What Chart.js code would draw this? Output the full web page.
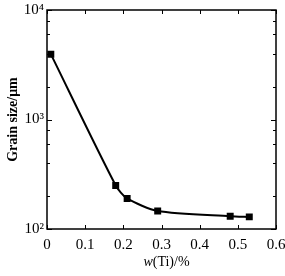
<!DOCTYPE html>
<html>
<head>
<meta charset="utf-8">
<script src="https://cdn.jsdelivr.net/npm/chart.js@4"></script>
<style>
body{margin:0;background:#fff}
</style>
</head>
<body>
<canvas id="c" width="285" height="276"></canvas>
<script>

// data
let tiContent = [0.01, 0.18, 0.21, 0.29, 0.48, 0.53]
let grainSize = [3950, 250, 190, 146, 131, 129]
let xTicks = [0, 0.1, 0.2, 0.3, 0.4, 0.5, 0.6]
let yTicks = [100, 1000, 10000]
let yTickLabels = {100:"10\u00B2", 1000:"10\u00B3", 10000:"10\u2074"}

let serif = "'Liberation Serif', 'DejaVu Serif', serif"

// inward ticks + frame + italic axis title
let extras = {
id:"extras",
afterDraw(chart){
let ctx = chart.ctx
let a = chart.chartArea
let xs = chart.scales.x
let ys = chart.scales.y
ctx.save()
ctx.strokeStyle = "#000"
ctx.lineWidth = 1.5
ctx.strokeRect(a.left, a.top, a.right - a.left, a.bottom - a.top)
ctx.lineWidth = 1
xTicks.forEach(v=>{
let px = Math.round(xs.getPixelForValue(v)) + 0.5
ctx.beginPath()
ctx.moveTo(px, a.bottom); ctx.lineTo(px, a.bottom - 4)
ctx.moveTo(px, a.top); ctx.lineTo(px, a.top + 4)
ctx.stroke()
})
for(let d = 100; d < 10000; d *= 10){
for(let m = 1; m <= 10; m++){
let v = d * m
if(m > 1 && m < 10 && m % 2 == 1) continue
let py = Math.round(ys.getPixelForValue(v)) + 0.5
let len = (m == 1 || m == 10) ? 5 : 3
ctx.beginPath()
ctx.moveTo(a.left, py); ctx.lineTo(a.left + len, py)
ctx.moveTo(a.right, py); ctx.lineTo(a.right - len, py)
ctx.stroke()
}
}
ctx.fillStyle = "#000"
ctx.textBaseline = "alphabetic"
ctx.font = "italic 14px " + serif
let w1 = ctx.measureText("w").width
ctx.font = "14px " + serif
let w2 = ctx.measureText("(Ti)/%").width
let cx = (a.left + a.right) / 2 + 5
let sx = cx - (w1 + w2) / 2
ctx.font = "italic 14px " + serif
ctx.fillText("w", sx, 266)
ctx.font = "14px " + serif
ctx.fillText("(Ti)/%", sx + w1, 266)
ctx.restore()
}
}

new Chart(document.getElementById("c"),{

type:"line",

data:{
datasets:[{
label:"Grain size",
data:tiContent.map((x,i)=>({x:x, y:grainSize[i]})),
borderColor:"#000",
backgroundColor:"#000",
borderWidth:2,
pointStyle:"rect",
pointRadius:3.5,
pointHoverRadius:3.5,
tension:0.25
}]
},

options:{
responsive:false,
animation:false,
layout:{padding:{top:10, right:0, left:5, bottom:0}},
plugins:{legend:{display:false}, tooltip:{enabled:false}},
scales:{
x:{
type:"linear",
min:0,
max:0.6,
afterBuildTicks(s){ s.ticks = xTicks.map(v=>({value:v})) },
afterFit(s){ s.height = 47; s.paddingRight = 9; s.paddingLeft = 0 },
grid:{display:false, drawTicks:false},
border:{display:false},
ticks:{
color:"#000",
padding:7,
maxRotation:0,
font:{family:serif, size:15},
callback:v=>String(v)
}
},
y:{
type:"logarithmic",
min:100,
max:10000,
afterBuildTicks(s){ s.ticks = yTicks.map(v=>({value:v})) },
afterFit(s){ s.width = 42; s.paddingTop = 0; s.paddingBottom = 0 },
grid:{display:false, drawTicks:false},
border:{display:false},
ticks:{
color:"#000",
padding:3,
font:{family:serif, size:15},
callback:v=>yTickLabels[v] || ""
},
title:{
display:true,
text:"Grain size/\u03BCm",
color:"#000",
padding:{top:0, bottom:0},
font:{family:serif, size:14, weight:"bold"}
}
}
}
},

plugins:[extras]

})

</script>
</body>
</html>
